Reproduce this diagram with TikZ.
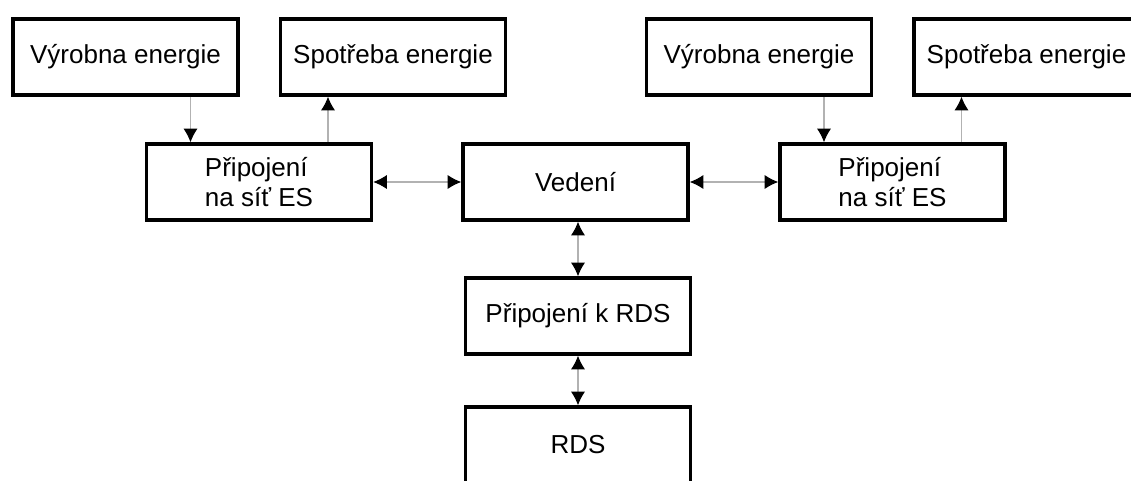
\documentclass[tikz,border=0pt]{standalone}
\usepackage{fontspec}
\setmainfont{Liberation Sans}
\usetikzlibrary{arrows.meta,shapes}
\tikzstyle{block}=[draw,line width=2pt,rectangle,minimum width=4.5cm,minimum height=1.52cm,inner sep=0pt,align=left,font=\fontsize{14.8}{17}\selectfont]
\tikzstyle{link}=[draw,black!30,line width=0.6pt,-{Latex[color=black,length=0.27cm,width=0.28cm]}]
\tikzstyle{dlink}=[link,{Latex[color=black,length=0.27cm,width=0.28cm]}-{Latex[color=black,length=0.27cm,width=0.28cm]}]

\begin{document}
\begin{tikzpicture}
    \useasboundingbox (0,0) rectangle (22.62,9.6);
    \clip (0,0) rectangle (22.62,9.6);
    % Draw the blocks
    \foreach \pos/\name/\txt in {{(2.51,8.46)/vyr1/Výrobna energie}, {(7.86,8.46)/spo1/Spotřeba energie},
        {(5.18,5.96)/pri1/{Připojení\\ na síť ES}}, {(11.51,5.96)/ved/Vedení}, {(17.85,5.96)/pri2/{Připojení\\ na síť ES}},
        {(15.18,8.46)/vyr2/Výrobna energie}, {(20.53,8.46)/spo2/Spotřeba energie},
        {(11.56,3.28)/prk/Připojení k RDS}, {(11.56,0.7)/rds/RDS}}
        \node[block] (\name) at \pos {\txt};

    % Connect blocks with arrows
    \path[link] ([xshift=1.3cm]vyr1.south) -- ([xshift=1.3cm]vyr1.south |- pri1.north);
    \path[link] ([xshift=-1.3cm]spo1.south |- pri1.north) -- ([xshift=-1.3cm]spo1.south);
    \path[link] ([xshift=1.3cm]vyr2.south) -- ([xshift=1.3cm]vyr2.south |- pri2.north);
    \path[link] ([xshift=-1.3cm]spo2.south |- pri2.north) -- ([xshift=-1.3cm]spo2.south);
    \path[dlink] (pri1) -- (ved);
    \path[dlink] (ved) -- (pri2);
    \path[dlink] (ved.south -| prk.north) -- (prk.north);
    \path[dlink] (prk) -- (rds);
\end{tikzpicture}
\end{document}
